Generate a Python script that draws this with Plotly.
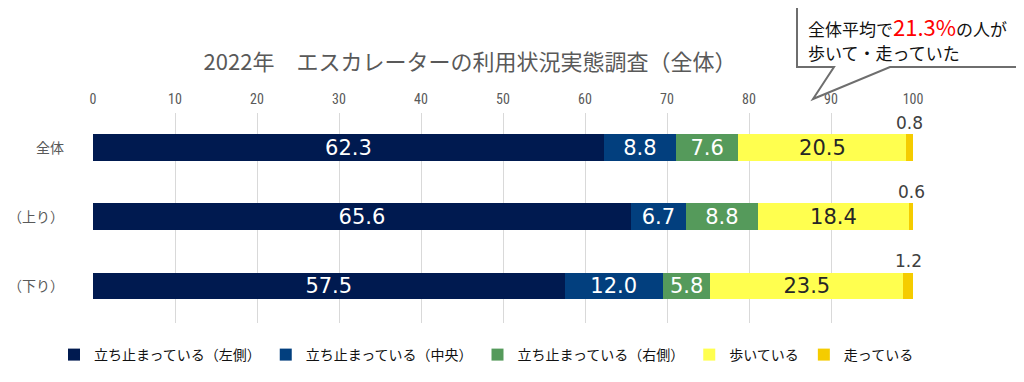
import plotly.graph_objects as go

categories = ["全体", "（上り）", "（下り）"]
series_names = ["立ち止まっている（左側）", "立ち止まっている（中央）", "立ち止まっている（右側）", "歩いている", "走っている"]
stand_left = [62.3, 65.6, 57.5]
stand_center = [8.8, 6.7, 12.0]
stand_right = [7.6, 8.8, 5.8]
walking = [20.5, 18.4, 23.5]
running = [0.8, 0.6, 1.2]
x_ticks = [0, 10, 20, 30, 40, 50, 60, 70, 80, 90, 100]

title_text = "2022年　エスカレーターの利用状況実態調査（全体）"
callout_pre = "全体平均で"
callout_value = "21.3%"
callout_post = "の人が"
callout_line2 = "歩いて・走っていた"

colors = ["#001A50", "#023F7E", "#559A5B", "#FFFF4F", "#F5CC00"]
text_colors = ["white", "white", "white", "#262626", "#262626"]

series = [stand_left, stand_center, stand_right, walking, running]

fig = go.Figure()
for i, (name, vals) in enumerate(zip(series_names, series)):
    show_text = i < 4
    fig.add_trace(go.Bar(
        y=categories, x=vals, name=name, orientation="h",
        marker=dict(color=colors[i], line=dict(width=0)),
        text=[f"{v:.1f}" for v in vals] if show_text else None,
        texttemplate="%{text}" if show_text else None,
        textposition="inside" if show_text else "none",
        insidetextanchor="middle",
        constraintext="none",
        textfont=dict(color=text_colors[i], size=21, family="DejaVu Sans"),
        hoverinfo="x+name",
    ))

# labels for small "running" segments above the bar
for cat, a, b, c, d, r in zip(categories, stand_left, stand_center, stand_right, walking, running):
    start = a + b + c + d
    fig.add_annotation(
        x=start + r / 2, y=cat, xref="x", yref="y", text=f"{r:.1f}",
        showarrow=False, yshift=25,
        font=dict(size=17, color="#404040", family="DejaVu Sans"),
    )

# page body adds an 8px offset; work in screen pixels and subtract it
OFF = 8
W, H = 1024, 382
L, R, T, B = 93 - OFF, W - 913 + OFF, 113 - OFF, H - 323 + OFF
PW, PH = W - L - R, H - T - B

def px(xs):
    return (xs - OFF - L) / PW

def py(ys):
    return (H - B - (ys - OFF)) / PH

# callout box
bx0, bx1, by0, by1 = 797, 1021, 5, 67
t1, t2, tip = (834, 67), (890, 67), (813, 99)
path = (f"M{px(bx0)},{py(by0)} L{px(bx1)},{py(by0)} L{px(bx1)},{py(by1)} "
        f"L{px(t2[0])},{py(t2[1])} L{px(tip[0])},{py(tip[1])} L{px(t1[0])},{py(t1[1])} "
        f"L{px(bx0)},{py(by1)} Z")
fig.add_shape(type="path", path=path, xref="paper", yref="paper",
              line=dict(color="#6E6E6E", width=2), fillcolor="white", layer="above")
fig.add_annotation(
    x=px(806), y=py(26), xref="paper", yref="paper", xanchor="left", yanchor="middle",
    align="left", showarrow=False,
    text=(f"{callout_pre}<span style='color:#FF0000;font-size:22px'>{callout_value}</span>"
          f"{callout_post}"),
    font=dict(size=17, color="#111111", family="Noto Sans CJK JP"),
)
fig.add_annotation(
    x=px(806), y=py(53), xref="paper", yref="paper", xanchor="left", yanchor="middle",
    align="left", showarrow=False, text=callout_line2,
    font=dict(size=17, color="#111111", family="Noto Sans CJK JP"),
)

fig.update_layout(
    width=W, height=H,
    barmode="stack", bargap=0.61,
    margin=dict(l=L, r=R, t=T, b=B, autoexpand=False),
    paper_bgcolor="white", plot_bgcolor="white",
    font=dict(family="Noto Sans CJK JP", color="#595959"),
    title=dict(text=title_text, x=px(470), xanchor="center", xref="paper",
               y=1 - (62 - OFF) / H, yanchor="middle",
               font=dict(size=22, color="#595959", family="Noto Sans CJK JP")),
    xaxis=dict(side="top", range=[0, 100], tickvals=x_ticks, showgrid=True,
               gridcolor="#D9D9D9", gridwidth=1, zeroline=False, showline=False,
               automargin=False, ticklabelstandoff=5,
               tickfont=dict(size=14, color="#595959", family="Roboto Condensed, Liberation Sans Narrow, Roboto"),
               ticks="", fixedrange=True),
    yaxis=dict(autorange="reversed", showgrid=False, zeroline=False, showline=False,
               ticks="", ticklabelstandoff=28, automargin=False,
               tickfont=dict(size=14, color="#595959", family="Noto Sans CJK JP")),
    legend=dict(orientation="h", xref="paper", x=px(54), xanchor="left",
                yref="paper", y=py(355), yanchor="middle",
                font=dict(size=14, color="#111111", family="Noto Sans CJK JP"),
                traceorder="normal", itemwidth=30),
    showlegend=True,
)

fig.write_html("out.html")
